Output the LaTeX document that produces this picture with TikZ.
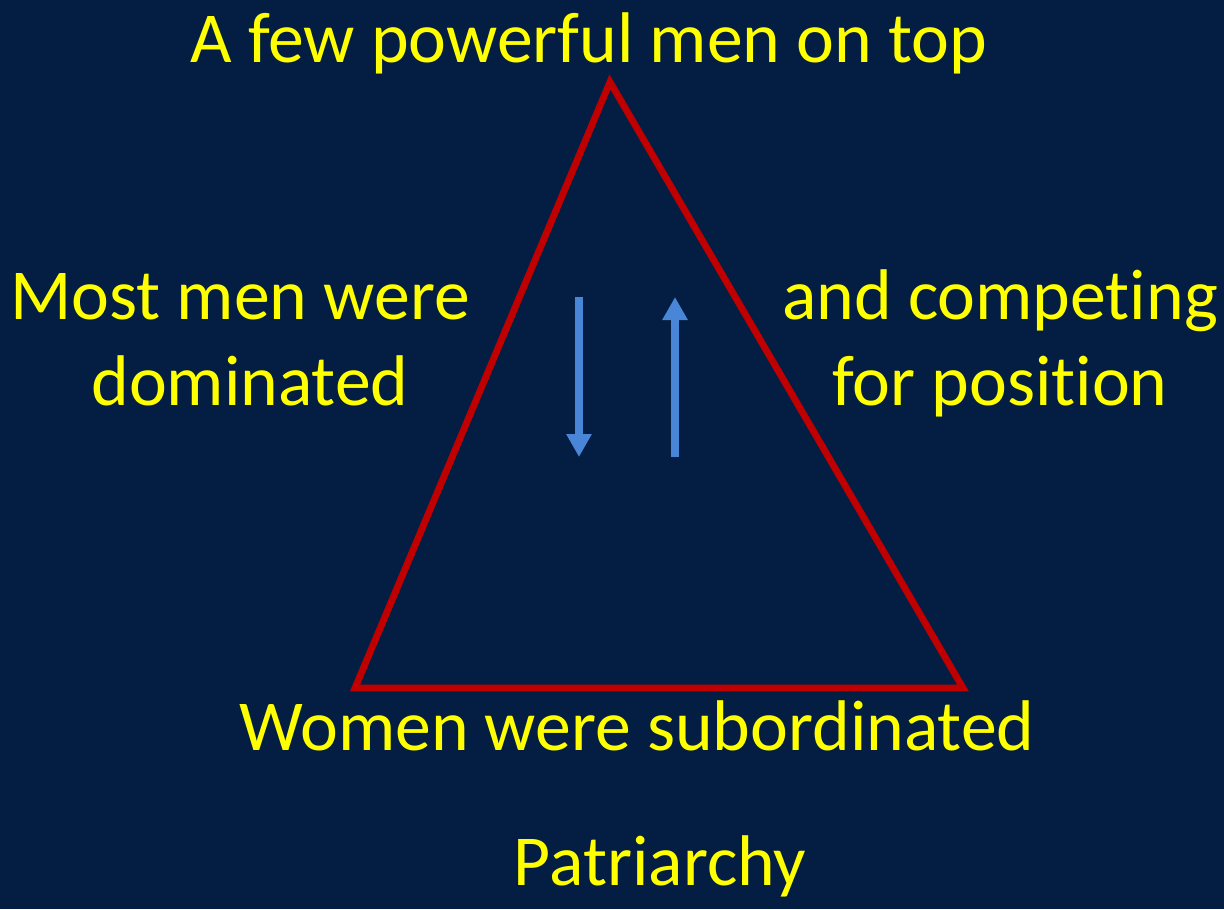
\documentclass[tikz,border=0pt]{standalone}
\usepackage{fontspec}
\setmainfont{Carlito}[Ligatures=NoCommon]
\usetikzlibrary{arrows.meta}
\definecolor{slidebg}{RGB}{3,30,66}
\definecolor{slideyellow}{RGB}{255,255,0}
\definecolor{trired}{RGB}{192,0,0}
\definecolor{arrblue}{RGB}{74,134,216}

\begin{document}
\begin{tikzpicture}[
  x=0.025cm, y=-0.025cm,
  lbl/.style={text=slideyellow, align=center, anchor=base,
              font=\fontsize{51}{60.5}\selectfont, inner sep=0pt},
  tri/.style={draw=trired, line width=0.17cm, line join=miter},
  arr/.style={-{Triangle[length=0.575cm, width=0.6cm]}, draw=arrblue,
              fill=arrblue, line width=0.2cm}
]
  % background
  \fill[slidebg] (0,0) rectangle (1224,909);

  % triangle corners
  \coordinate (apex) at (610,82);
  \coordinate (bl) at (355,688);
  \coordinate (br) at (963,688);
  \draw[tri] (bl) -- (apex) -- (br) -- cycle;

  % arrows
  \coordinate (dtop) at (579,297);
  \coordinate (dbot) at (579,457);
  \coordinate (utop) at (675,297);
  \coordinate (ubot) at (675,457);
  \draw[arr] (dtop) -- (dbot);
  \draw[arr] (ubot) -- (utop);

  % labels
  \node[lbl] (top)   at (589,62)   {A few powerful men on top};
  \node[lbl] (left)  at (240,405)  {Most men were\\\hspace*{0.5cm}dominated};
  \node[lbl] (right) at (1000,405) {and competing\\for position};
  \node[lbl] (women) at (637,750)  {Women were subordinated};
  \node[lbl] (title) at (660,885)  {Patriarchy};
\end{tikzpicture}
\end{document}
